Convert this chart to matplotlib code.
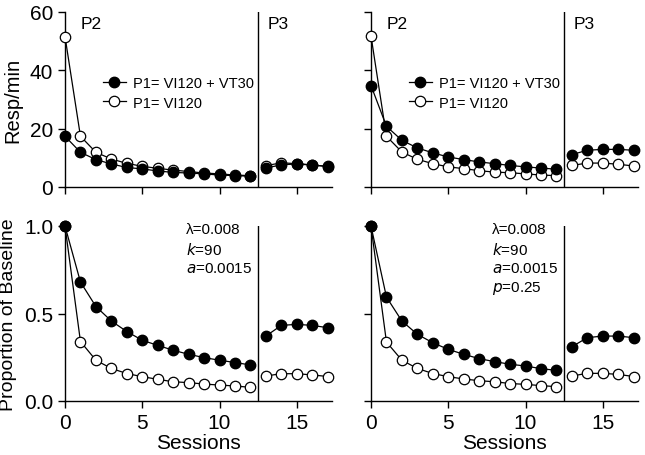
import matplotlib
matplotlib.use("Agg")
import matplotlib.pyplot as plt
import numpy as np

plt.rcParams['font.family'] = ['Liberation Sans', 'DejaVu Sans']

# sessions
s_p2 = np.arange(0, 13)
s_p3 = np.arange(13, 18)

# top-left: resp/min
tl_fill_p2 = [17.4, 11.9, 9.4, 7.9, 6.7, 6.2, 5.5, 5.0, 4.8, 4.5, 4.1, 3.9, 3.7]
tl_open_p2 = [51.6, 17.4, 11.9, 9.6, 8.1, 7.1, 6.4, 5.8, 5.3, 4.8, 4.5, 4.1, 3.9]
tl_fill_p3 = [6.5, 7.6, 7.9, 7.5, 7.1]
tl_open_p3 = [7.3, 8.3, 8.0, 7.6, 7.0]

# top-right: resp/min
tr_fill_p2 = [34.8, 20.8, 16.0, 13.4, 11.7, 10.3, 9.4, 8.6, 8.0, 7.4, 6.9, 6.5, 6.1]
tr_open_p2 = [51.8, 17.4, 12.0, 9.5, 8.0, 6.9, 6.3, 5.6, 5.1, 4.9, 4.5, 4.1, 3.9]
tr_fill_p3 = [11.1, 12.6, 12.9, 12.9, 12.6]
tr_open_p3 = [7.4, 8.2, 8.2, 7.8, 7.2]

# bottom-left: proportion of baseline
bl_fill_p2 = [1.0, 0.68, 0.54, 0.457, 0.397, 0.347, 0.318, 0.29, 0.267, 0.248, 0.233, 0.22, 0.206]
bl_open_p2 = [1.0, 0.34, 0.233, 0.186, 0.157, 0.139, 0.124, 0.11, 0.105, 0.097, 0.091, 0.086, 0.078]
bl_fill_p3 = [0.371, 0.432, 0.438, 0.432, 0.419]
bl_open_p3 = [0.143, 0.156, 0.156, 0.149, 0.14]

# bottom-right: proportion of baseline
br_fill_p2 = [1.0, 0.594, 0.457, 0.381, 0.333, 0.295, 0.267, 0.242, 0.225, 0.21, 0.2, 0.185, 0.175]
br_open_p2 = [1.0, 0.337, 0.233, 0.186, 0.157, 0.139, 0.126, 0.116, 0.11, 0.1, 0.095, 0.088, 0.082]
br_fill_p3 = [0.31, 0.362, 0.371, 0.371, 0.362]
br_open_p3 = [0.143, 0.158, 0.158, 0.152, 0.14]

lab_fill = "P1= VI120 + VT30"
lab_open = "P1= VI120"

fig = plt.figure(figsize=(6.45, 4.56), dpi=100)
W, H = 645.0, 456.0
xmax = 17.25
wpx = xmax * 15.45
ax_tl = fig.add_axes([65 / W, 268 / H, wpx / W, 175 / H])
ax_tr = fig.add_axes([371 / W, 268 / H, wpx / W, 175 / H])
ax_bl = fig.add_axes([65 / W, 54 / H, wpx / W, 175 / H])
ax_br = fig.add_axes([371 / W, 54 / H, wpx / W, 175 / H])

panels = [
    (ax_tl, tl_fill_p2, tl_open_p2, tl_fill_p3, tl_open_p3),
    (ax_tr, tr_fill_p2, tr_open_p2, tr_fill_p3, tr_open_p3),
    (ax_bl, bl_fill_p2, bl_open_p2, bl_fill_p3, bl_open_p3),
    (ax_br, br_fill_p2, br_open_p2, br_fill_p3, br_open_p3),
]

ms = 7.5
for ax, f2, o2, f3, o3 in panels:
    ax.plot(s_p2, o2, '-o', color='black', mfc='white', mec='black', ms=ms, lw=0.9, mew=0.9,
            clip_on=False, zorder=3, label=lab_open)
    ax.plot(s_p2, f2, '-o', color='black', mfc='black', ms=ms, lw=0.9, clip_on=False, zorder=4,
            label=lab_fill)
    ax.plot(s_p3, o3, '-o', color='black', mfc='white', mec='black', ms=ms, lw=0.9, mew=0.9,
            clip_on=False, zorder=3)
    ax.plot(s_p3, f3, '-o', color='black', mfc='black', ms=ms, lw=0.9, clip_on=False, zorder=4)
    ax.axvline(12.5, color='black', lw=1.0)
    ax.set_xlim(0, xmax)
    ax.set_xticks([0, 5, 10, 15])
    ax.spines['top'].set_visible(False)
    ax.spines['right'].set_visible(False)
    for sp in ['left', 'bottom']:
        ax.spines[sp].set_linewidth(1.0)
    ax.tick_params(direction='out', length=5, width=1.0, labelsize=15)

for ax in (ax_tl, ax_tr):
    ax.set_ylim(0, 60)
    ax.set_yticks([0, 20, 40, 60])
    ax.set_xticklabels([])
    ax.text(1.0, 56, "P2", fontsize=12.5, va='center', ha='left')
    ax.text(13.1, 56, "P3", fontsize=12.5, va='center', ha='left')
    h, l = ax.get_legend_handles_labels()
    ax.legend([h[1], h[0]], [l[1], l[0]], loc='upper left', bbox_to_anchor=(0.12, 0.665),
              frameon=False, fontsize=10.5, handlelength=1.6, handletextpad=0.5,
              labelspacing=0.35, borderaxespad=0)

for ax in (ax_bl, ax_br):
    ax.set_ylim(0, 1.0)
    ax.set_yticks([0, 0.5, 1.0])
    ax.set_yticklabels(["0.0", "0.5", "1.0"])
    ax.set_xlabel("Sessions", fontsize=15, labelpad=1)

ax_tr.set_yticklabels([])
ax_br.set_yticklabels([])

ax_tl.set_ylabel("Resp/min", fontsize=14.5, labelpad=5)
ax_bl.set_ylabel("Proportion of Baseline", fontsize=14, labelpad=5)

ax_bl.text(7.85, 1.02, "\u03bb=0.008\n$\\it{k}$=90\n$\\it{a}$=0.0015", fontsize=11, va='top',
           ha='left', linespacing=1.35)
ax_br.text(7.8, 1.02, "\u03bb=0.008\n$\\it{k}$=90\n$\\it{a}$=0.0015\n$\\it{p}$=0.25", fontsize=11,
           va='top', ha='left', linespacing=1.35)

fig.savefig("out.png", dpi=100)
